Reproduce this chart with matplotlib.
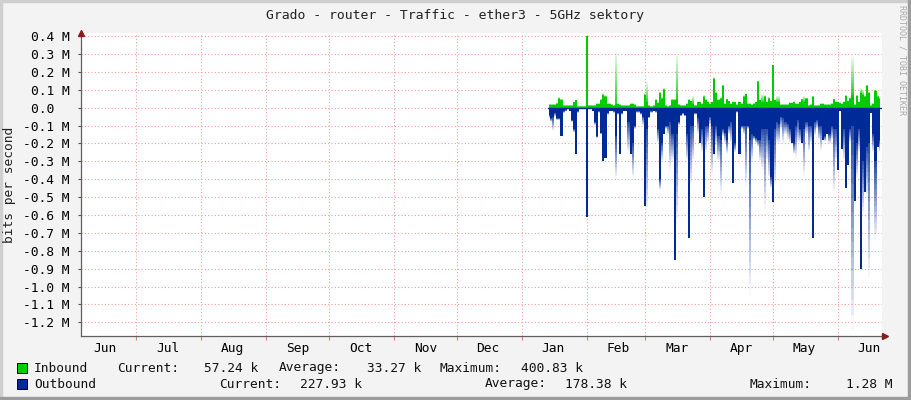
"""RRDtool style yearly traffic graph for ether3 (5GHz sektory)."""

import matplotlib

matplotlib.use("Agg")
import matplotlib.dates as mdates
import matplotlib.pyplot as plt
import numpy as np
import pandas as pd
from matplotlib.patches import Rectangle

TITLE = "Grado - router - Traffic - ether3 - 5GHz sektory"
Y_LABEL = "bits per second"
WATERMARK = "RRDTOOL / TOBI OETIKER"

# daily samples, first sample on this date (M bits/s)
FIRST_DAY = "2021-01-14"

in_avg = [
    0.015, 0.015, 0.015, 0.015, 0.02, 0.05, 0.04, 0.01, 0.01, 0.01,
    0.01, 0.01, 0.03, 0.04, 0.005, 0.005, 0.005, 0.005, 0.40, 0.01,
    0.01, 0.01, 0.01, 0.02, 0.02, 0.04, 0.07, 0.06, 0.02, 0.02,
    0.015, 0.01, 0.02, 0.02, 0.015, 0.01, 0.01, 0.01, 0.01,
    0.02, 0.02, 0.015, 0.005, 0.005, 0.005, 0.005, 0.07, 0.03, 0.01,
    0.005, 0.01, 0.04, 0.025, 0.08, 0.05, 0.10, 0.01, 0.005, 0.01,
    0.04, 0.04, 0.05, 0.015, 0.01, 0.01, 0.01, 0.02, 0.04, 0.035,
    0.02, 0.01, 0.03, 0.03, 0.02, 0.06, 0.04, 0.03, 0.02, 0.03,
    0.16, 0.08, 0.04, 0.05, 0.12, 0.02, 0.045, 0.035, 0.02, 0.03,
    0.03, 0.015, 0.03, 0.02, 0.06, 0.075, 0.02, 0.02, 0.015, 0.02,
    0.03, 0.145, 0.04, 0.03, 0.06, 0.03, 0.05, 0.035, 0.24, 0.04,
    0.03, 0.03, 0.015, 0.015, 0.015, 0.015, 0.025, 0.025, 0.03, 0.02,
    0.02, 0.03, 0.045, 0.03, 0.05, 0.01, 0.015, 0.06, 0.01, 0.01,
    0.01, 0.02, 0.02, 0.015, 0.015, 0.015, 0.02, 0.045, 0.03, 0.03,
    0.025, 0.02, 0.03, 0.065, 0.035, 0.05, 0.07, 0.015, 0.065, 0.03,
    0.08, 0.07, 0.06, 0.12, 0.08, 0.01, 0.02, 0.09, 0.06, 0.05,
]
in_max = [
    0.02, 0.02, 0.02, 0.02, 0.03, 0.06, 0.05, 0.015, 0.015, 0.015,
    0.015, 0.015, 0.035, 0.045, 0.01, 0.01, 0.01, 0.01, 0.40, 0.015,
    0.015, 0.015, 0.015, 0.025, 0.025, 0.05, 0.08, 0.07, 0.025, 0.025,
    0.02, 0.015, 0.33, 0.025, 0.02, 0.015, 0.015, 0.015, 0.015,
    0.025, 0.025, 0.02, 0.01, 0.01, 0.01, 0.01, 0.08, 0.15, 0.015,
    0.01, 0.015, 0.05, 0.03, 0.09, 0.06, 0.11, 0.015, 0.01, 0.015,
    0.05, 0.05, 0.32, 0.02, 0.015, 0.015, 0.015, 0.025, 0.05, 0.04,
    0.07, 0.015, 0.035, 0.035, 0.025, 0.07, 0.05, 0.035, 0.025, 0.035,
    0.17, 0.09, 0.05, 0.06, 0.13, 0.025, 0.05, 0.04, 0.025, 0.035,
    0.035, 0.02, 0.035, 0.025, 0.07, 0.08, 0.025, 0.025, 0.02, 0.025,
    0.035, 0.15, 0.045, 0.08, 0.07, 0.035, 0.06, 0.04, 0.24, 0.045,
    0.07, 0.07, 0.02, 0.02, 0.02, 0.02, 0.03, 0.03, 0.035, 0.025,
    0.025, 0.035, 0.05, 0.07, 0.055, 0.015, 0.02, 0.065, 0.015, 0.015,
    0.015, 0.025, 0.025, 0.02, 0.02, 0.02, 0.025, 0.05, 0.035, 0.035,
    0.03, 0.025, 0.035, 0.07, 0.04, 0.06, 0.30, 0.02, 0.07, 0.035,
    0.11, 0.10, 0.07, 0.13, 0.09, 0.015, 0.025, 0.10, 0.07, 0.06,
]
out_avg = [
    -0.04, -0.06, -0.05, -0.03, -0.06, -0.06, -0.16, -0.02, -0.015, -0.01,
    -0.02, -0.07, -0.12, -0.26, -0.02, -0.01, -0.01, -0.01, -0.61, -0.01,
    -0.01, -0.02, -0.08, -0.16, -0.02, -0.14, -0.30, -0.28, -0.03, -0.02,
    -0.02, -0.02, -0.16, -0.03, -0.26, -0.03, -0.02, -0.02, -0.08,
    -0.26, -0.20, -0.10, -0.02, -0.02, -0.03, -0.05, -0.55, -0.12, -0.05,
    -0.02, -0.02, -0.02, -0.12, -0.40, -0.20, -0.15, -0.10, -0.10, -0.08,
    -0.15, -0.85, -0.15, -0.08, -0.04, -0.03, -0.04, -0.15, -0.73, -0.10,
    -0.10, -0.03, -0.06, -0.20, -0.12, -0.50, -0.10, -0.10, -0.05, -0.10,
    -0.26, -0.10, -0.16, -0.18, -0.12, -0.14, -0.18, -0.10, -0.08, -0.42,
    -0.20, -0.02, -0.26, -0.10, -0.10, -0.10, -0.10, -0.18, -0.15, -0.16,
    -0.17, -0.18, -0.18, -0.12, -0.12, -0.12, -0.18, -0.39, -0.53, -0.12,
    -0.08, -0.09, -0.05, -0.06, -0.08, -0.09, -0.12, -0.20, -0.20, -0.10,
    -0.07, -0.12, -0.20, -0.12, -0.08, -0.10, -0.10, -0.73, -0.08, -0.07,
    -0.10, -0.10, -0.18, -0.16, -0.15, -0.15, -0.10, -0.12, -0.12, -0.35,
    -0.02, -0.23, -0.12, -0.45, -0.32, -0.12, -0.10, -0.52, -0.20, -0.12,
    -0.90, -0.30, -0.47, -0.22, -0.20, -0.03, -0.15, -0.30, -0.22, -0.18,
]
out_max = [
    -0.06, -0.08, -0.13, -0.05, -0.07, -0.07, -0.16, -0.03, -0.02, -0.01,
    -0.02, -0.08, -0.14, -0.26, -0.03, -0.01, -0.01, -0.01, -0.61, -0.01,
    -0.01, -0.02, -0.10, -0.17, -0.03, -0.15, -0.30, -0.28, -0.04, -0.02,
    -0.02, -0.03, -0.40, -0.04, -0.26, -0.04, -0.02, -0.02, -0.25,
    -0.26, -0.39, -0.12, -0.03, -0.03, -0.04, -0.10, -0.55, -0.59, -0.06,
    -0.03, -0.02, -0.03, -0.20, -0.46, -0.30, -0.15, -0.12, -0.15, -0.35,
    -0.30, -0.85, -0.65, -0.10, -0.05, -0.04, -0.05, -0.30, -0.73, -0.44,
    -0.30, -0.04, -0.15, -0.20, -0.25, -0.50, -0.25, -0.20, -0.10, -0.38,
    -0.26, -0.22, -0.30, -0.48, -0.16, -0.20, -0.26, -0.15, -0.20, -0.42,
    -0.25, -0.03, -0.26, -0.12, -0.15, -0.44, -0.12, -1.05, -0.30, -0.18,
    -0.20, -0.22, -0.30, -0.35, -0.57, -0.30, -0.40, -0.45, -0.53, -0.44,
    -0.20, -0.20, -0.12, -0.20, -0.15, -0.18, -0.20, -0.20, -0.26, -0.28,
    -0.20, -0.20, -0.20, -0.38, -0.15, -0.25, -0.20, -0.73, -0.16, -0.12,
    -0.18, -0.24, -0.18, -0.19, -0.15, -0.20, -0.18, -0.48, -0.30, -0.35,
    -0.02, -0.23, -0.30, -0.45, -0.32, -0.20, -1.24, -0.52, -0.40, -0.25,
    -0.90, -0.60, -0.47, -0.50, -0.95, -0.03, -0.25, -0.74, -0.22, -0.25,
]

y_ticks = [0.4, 0.3, 0.2, 0.1, 0.0, -0.1, -0.2, -0.3, -0.4, -0.5, -0.6,
           -0.7, -0.8, -0.9, -1.0, -1.1, -1.2]

legend_rows = [
    ("Inbound", "#00CC00", [("Current:", "57.24 k"), ("Average:", "33.27 k"),
                            ("Maximum:", "400.83 k")]),
    ("Outbound", "#002A97", [("Current:", "227.93 k"), ("Average:", "178.38 k"),
                             ("Maximum:", "1.28 M")]),
]

IN_COLOR = "#00CC00"
OUT_COLOR = "#002A97"
BG = "#F3F3F3"
GRID = "#F2A0A0"
MONO = "DejaVu Sans Mono"
FS = 9.3
W, H = 911, 400


def px(x, y):
    """Pixel position (from top-left) to figure fraction."""
    return x / W, 1 - y / H


def fade_fill(ax, x, avg, mx, color, steps=14):
    """Solid area up to avg, then a fading band from avg to max."""
    avg = np.asarray(avg)
    mx = np.asarray(mx)
    ax.fill_between(x, 0, avg, step="mid", color=color, lw=0, zorder=3)
    for k in range(steps):
        lo = avg + (mx - avg) * k / steps
        hi = avg + (mx - avg) * (k + 1) / steps
        alpha = 0.85 * (1 - (k + 0.5) / steps)
        ax.fill_between(x, lo, hi, step="mid", color=color, alpha=alpha,
                        lw=0, zorder=3)


days = pd.date_range(FIRST_DAY, periods=len(in_avg), freq="D")
x = mdates.date2num(days.to_pydatetime())

fig = plt.figure(figsize=(W / 100, H / 100), dpi=100, facecolor=BG)
left, top, right, bottom = 81, 33, 882, 336
ax = fig.add_axes([left / W, 1 - bottom / H, (right - left) / W,
                   (bottom - top) / H])
ax.set_facecolor("white")

fade_fill(ax, x, in_avg, in_max, IN_COLOR)
fade_fill(ax, x, out_avg, out_max, OUT_COLOR)
ax.plot([x[0] - 0.5, x[-1] + 0.5], [0, 0], color=OUT_COLOR, lw=1.0, zorder=4)

ax.set_ylim(-1.276, 0.4168)
ax.set_xlim(mdates.datestr2num("2020-06-04 12:00"),
            mdates.datestr2num("2021-06-22 02:00"))

ax.set_yticks(y_ticks)
ax.set_yticklabels([f"{v:.1f} M" if v != 0 else "0.0  " for v in y_ticks],
                   family=MONO, fontsize=FS)
ax.xaxis.set_major_locator(mdates.MonthLocator())
ax.xaxis.set_major_formatter(plt.NullFormatter())
ax.xaxis.set_minor_locator(mdates.MonthLocator(bymonthday=16))
ax.xaxis.set_minor_formatter(mdates.DateFormatter("%b"))
for lab in ax.get_xticklabels(minor=True):
    lab.set_family(MONO)
    lab.set_fontsize(FS)
ax.tick_params(axis="x", which="minor", length=0, pad=4)
ax.tick_params(axis="x", which="major", length=3, color="#E08080", width=0.8)
ax.tick_params(axis="y", length=2, color="#555555", width=0.8, pad=6)

ax.grid(True, which="major", color=GRID, lw=0.8, ls=(0, (1, 2)), zorder=5)
for side in ("top", "right"):
    ax.spines[side].set_visible(False)
for side in ("left", "bottom"):
    ax.spines[side].set_color("#606060")
    ax.spines[side].set_linewidth(0.9)
    ax.spines[side].set_zorder(6)

# axis arrows
ax.plot([0], [1], marker="^", color="#8B1A1A", ms=4, transform=ax.transAxes,
        clip_on=False, zorder=7)
ax.plot([1.004], [0], marker=">", color="#8B1A1A", ms=4,
        transform=ax.transAxes, clip_on=False, zorder=7)

fig.text(*px(455, 15), TITLE, family=MONO, fontsize=FS * 1.02, ha="center",
         va="center", color="#222222")
fig.text(*px(10, 185), Y_LABEL, family=MONO, fontsize=FS, rotation=90,
         ha="center", va="center", color="#222222")
fig.text(*px(902, 60), WATERMARK, family=MONO, fontsize=6.0, rotation=270,
         ha="center", va="center", color="#A8A8A8")

# legend (RRDtool GPRINT layout)
label_x = [[117, 279, 439], [219, 485, 750]]
value_right = [[258, 421, 583], [362, 627, 892]]
row_y = [368, 384]
for r, (name, color, stats) in enumerate(legend_rows):
    yy = row_y[r]
    sx, sy = px(17, yy + 5)
    fig.patches.append(Rectangle((sx, sy), 10 / W, 10 / H, facecolor=color,
                                 edgecolor="black", lw=0.7,
                                 transform=fig.transFigure))
    fig.text(*px(34, yy), name, family=MONO, fontsize=FS, va="center",
             color="#111111")
    for c, (lab, val) in enumerate(stats):
        fig.text(*px(label_x[r][c], yy), lab, family=MONO, fontsize=FS,
                 va="center", color="#111111")
        fig.text(*px(value_right[r][c], yy), val, family=MONO, fontsize=FS,
                 va="center", ha="right", color="#111111")

# image frame: light top/left, dark bottom/right
fig.patches.append(Rectangle((0, 1 - 2 / H), 1, 2 / H, color="#CFCFCF",
                             transform=fig.transFigure))
fig.patches.append(Rectangle((0, 0), 2 / W, 1, color="#CFCFCF",
                             transform=fig.transFigure))
fig.patches.append(Rectangle((0, 0), 1, 3 / H, color="#9C9C9C",
                             transform=fig.transFigure))
fig.patches.append(Rectangle((1 - 3 / W, 0), 3 / W, 1, color="#9C9C9C",
                             transform=fig.transFigure))

fig.savefig("out.png", dpi=100, facecolor=BG)
